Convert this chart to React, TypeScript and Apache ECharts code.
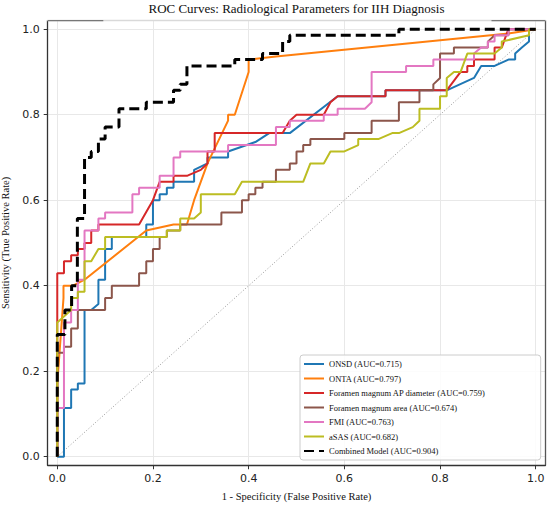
import React, { useEffect, useRef } from "react";
import * as echarts from "echarts";

const tickValues = [0, 0.2, 0.4, 0.6, 0.8, 1.0];

const seriesNames = [
  "ONSD (AUC=0.715)",
  "ONTA (AUC=0.797)",
  "Foramen magnum AP diameter (AUC=0.759)",
  "Foramen magnum area (AUC=0.674)",
  "FMI (AUC=0.763)",
  "aSAS (AUC=0.682)",
  "Combined Model (AUC=0.904)",
];

const seriesColors = ["#1f77b4", "#ff7f0e", "#d62728", "#8c564b", "#e377c2", "#bcbd22", "#000000"];

const onsd: [number, number][] = [
  [0, 0], [0.014, 0], [0.014, 0.114], [0.029, 0.114], [0.029, 0.157], [0.043, 0.157], [0.043, 0.171],
  [0.057, 0.171], [0.057, 0.343], [0.071, 0.343], [0.086, 0.357], [0.086, 0.414], [0.1, 0.414],
  [0.1, 0.486], [0.114, 0.486], [0.114, 0.514], [0.186, 0.514], [0.186, 0.543], [0.2, 0.543],
  [0.2, 0.6], [0.214, 0.6], [0.214, 0.614], [0.229, 0.614], [0.229, 0.629], [0.243, 0.629],
  [0.243, 0.643], [0.286, 0.643], [0.286, 0.671], [0.314, 0.686], [0.314, 0.7], [0.357, 0.7],
  [0.357, 0.714], [0.414, 0.736], [0.443, 0.757], [0.486, 0.757], [0.586, 0.843], [0.686, 0.843],
  [0.686, 0.857], [0.814, 0.857], [0.871, 0.886], [0.886, 0.914], [0.914, 0.914], [0.943, 0.929],
  [0.957, 0.929], [0.957, 0.943], [0.971, 0.957], [0.986, 0.971], [0.986, 1.0], [1, 1],
];

const onta: [number, number][] = [
  [0, 0], [0, 0.171], [0.013, 0.371], [0.013, 0.4], [0.033, 0.4], [0.057, 0.414], [0.186, 0.529],
  [0.243, 0.543], [0.271, 0.543], [0.286, 0.6], [0.314, 0.686], [0.357, 0.786], [0.357, 0.8],
  [0.371, 0.8], [0.4, 0.9], [0.4, 0.929], [0.457, 0.936], [0.943, 0.99], [1, 1],
];

const fmApDiameter: [number, number][] = [
  [0, 0], [0, 0.429], [0.014, 0.429], [0.014, 0.457], [0.029, 0.457], [0.029, 0.471], [0.043, 0.471],
  [0.043, 0.486], [0.057, 0.486], [0.057, 0.5], [0.071, 0.5], [0.071, 0.529], [0.086, 0.529],
  [0.086, 0.543], [0.171, 0.543], [0.2, 0.6], [0.214, 0.643], [0.243, 0.643], [0.243, 0.657],
  [0.271, 0.657], [0.3, 0.671], [0.314, 0.686], [0.314, 0.714], [0.329, 0.714], [0.329, 0.757],
  [0.471, 0.757], [0.486, 0.786], [0.5, 0.8], [0.557, 0.8], [0.571, 0.829], [0.586, 0.843],
  [0.686, 0.843], [0.686, 0.857], [0.814, 0.857], [0.843, 0.9], [0.857, 0.9], [0.857, 0.914],
  [0.871, 0.914], [0.871, 0.929], [0.914, 0.929], [0.914, 0.957], [0.929, 0.957], [0.936, 0.979],
  [0.943, 1.0], [1, 1],
];

const fmArea: [number, number][] = [
  [0, 0], [0, 0.243], [0.014, 0.243], [0.014, 0.257], [0.029, 0.257], [0.029, 0.3], [0.043, 0.3],
  [0.043, 0.343], [0.1, 0.343], [0.1, 0.371], [0.114, 0.371], [0.114, 0.4], [0.171, 0.4],
  [0.171, 0.429], [0.186, 0.429], [0.186, 0.457], [0.2, 0.457], [0.2, 0.486], [0.214, 0.486],
  [0.214, 0.514], [0.229, 0.514], [0.229, 0.529], [0.257, 0.529], [0.257, 0.543], [0.343, 0.543],
  [0.343, 0.571], [0.386, 0.571], [0.386, 0.6], [0.4, 0.6], [0.4, 0.614], [0.414, 0.614],
  [0.414, 0.629], [0.429, 0.629], [0.429, 0.643], [0.457, 0.643], [0.457, 0.671], [0.486, 0.671],
  [0.486, 0.686], [0.5, 0.686], [0.5, 0.714], [0.514, 0.714], [0.514, 0.729], [0.529, 0.729],
  [0.529, 0.743], [0.6, 0.743], [0.6, 0.757], [0.657, 0.757], [0.657, 0.786], [0.714, 0.786],
  [0.714, 0.829], [0.757, 0.829], [0.757, 0.857], [0.786, 0.857], [0.786, 0.871], [0.8, 0.886],
  [0.8, 0.943], [0.829, 0.943], [0.829, 0.957], [0.9, 0.957], [0.9, 0.971], [0.914, 0.986],
  [0.943, 0.986], [0.943, 1.0], [1, 1],
];

const fmi: [number, number][] = [
  [0, 0], [0, 0.114], [0.014, 0.114], [0.014, 0.314], [0.029, 0.314], [0.029, 0.343], [0.043, 0.343],
  [0.043, 0.414], [0.057, 0.414], [0.057, 0.529], [0.086, 0.529], [0.086, 0.557], [0.1, 0.557],
  [0.1, 0.571], [0.157, 0.571], [0.157, 0.614], [0.171, 0.614], [0.171, 0.629], [0.214, 0.629],
  [0.214, 0.657], [0.243, 0.657], [0.243, 0.7], [0.257, 0.7], [0.257, 0.714], [0.357, 0.714],
  [0.357, 0.729], [0.457, 0.729], [0.457, 0.771], [0.486, 0.771], [0.486, 0.786], [0.557, 0.786],
  [0.557, 0.8], [0.586, 0.8], [0.586, 0.814], [0.643, 0.814], [0.657, 0.829], [0.657, 0.9],
  [0.729, 0.9], [0.729, 0.914], [0.786, 0.914], [0.786, 0.929], [0.871, 0.929], [0.871, 0.943],
  [0.886, 0.957], [0.9, 0.957], [0.9, 0.971], [0.914, 0.971], [0.914, 0.986], [0.943, 0.986],
  [0.943, 1.0], [1, 1],
];

const asas: [number, number][] = [
  [0, 0], [0, 0.314], [0.029, 0.343], [0.029, 0.371], [0.043, 0.371], [0.043, 0.386], [0.057, 0.386],
  [0.057, 0.457], [0.071, 0.457], [0.086, 0.486], [0.1, 0.486], [0.1, 0.514], [0.229, 0.514],
  [0.229, 0.529], [0.257, 0.529], [0.257, 0.557], [0.286, 0.557], [0.3, 0.571], [0.3, 0.614],
  [0.371, 0.614], [0.386, 0.643], [0.514, 0.643], [0.529, 0.686], [0.557, 0.686], [0.571, 0.714],
  [0.6, 0.714], [0.629, 0.729], [0.629, 0.743], [0.671, 0.743], [0.7, 0.757], [0.714, 0.757],
  [0.743, 0.771], [0.757, 0.786], [0.757, 0.814], [0.8, 0.814], [0.8, 0.843], [0.814, 0.843],
  [0.814, 0.886], [0.829, 0.9], [0.843, 0.9], [0.857, 0.943], [0.914, 0.943], [0.929, 0.957],
  [0.929, 0.971], [0.986, 0.986], [0.986, 1.0], [1, 1],
];

const combined: [number, number][] = [
  [0, 0], [0, 0.286], [0.016, 0.286], [0.016, 0.343], [0.03, 0.343], [0.03, 0.4], [0.042, 0.4],
  [0.042, 0.557], [0.057, 0.557], [0.057, 0.7], [0.071, 0.7], [0.071, 0.714], [0.086, 0.714],
  [0.086, 0.743], [0.1, 0.743], [0.1, 0.771], [0.129, 0.771], [0.129, 0.814], [0.186, 0.814],
  [0.186, 0.829], [0.243, 0.829], [0.243, 0.857], [0.257, 0.857], [0.257, 0.871], [0.271, 0.871],
  [0.271, 0.914], [0.371, 0.914], [0.371, 0.929], [0.429, 0.929], [0.429, 0.943], [0.471, 0.943],
  [0.471, 0.971], [0.486, 0.971], [0.486, 0.986], [0.714, 0.986], [0.714, 1.0], [1, 1],
];

const chanceLine: [number, number][] = [[0, 0], [1, 1]];

const curves = [onsd, onta, fmApDiameter, fmArea, fmi, asas, combined];

const SERIF = "'Liberation Serif', 'Times New Roman', serif";
const SANS = "'DejaVu Sans', sans-serif";

export default function App() {
  const ref = useRef<HTMLDivElement>(null);

  useEffect(() => {
    if (!ref.current) return;
    const chart = echarts.init(ref.current, null, { renderer: "svg" });

    const gridLeft = 47.7;
    const gridTop = 20.65;
    const gridWidth = 497.6;
    const gridHeight = 444.6;

    const series: any[] = curves.map((data, i) => ({
      name: seriesNames[i],
      type: "line",
      data,
      symbol: "none",
      showSymbol: false,
      clip: true,
      z: 3 + i,
      color: seriesColors[i],
      itemStyle: { color: seriesColors[i], opacity: 0 },
      lineStyle:
        i === 6
          ? { color: seriesColors[i], width: 3, type: [10, 5] }
          : { color: seriesColors[i], width: 2 },
    }));

    series.unshift({
      name: "chance",
      type: "line",
      data: chanceLine,
      symbol: "none",
      z: 2,
      lineStyle: { color: "#999999", width: 1, type: [1, 2] },
      silent: true,
    });

    const option: any = {
      animation: false,
      backgroundColor: "#ffffff",
      title: {
        text: "ROC Curves: Radiological Parameters for IIH Diagnosis",
        left: gridLeft + gridWidth / 2,
        textAlign: "center",
        top: 2,
        padding: 0,
        textStyle: { fontFamily: SERIF, fontSize: 13, fontWeight: "normal", color: "#111" },
      },
      grid: {
        left: gridLeft,
        top: gridTop,
        width: gridWidth,
        height: gridHeight,
        containLabel: false,
        outerBoundsMode: "none",
      },
      xAxis: [
        {
          type: "value",
          min: -0.02,
          max: 1.02,
          position: "bottom",
          name: "1 - Specificity (False Positive Rate)",
          nameLocation: "middle",
          nameGap: 26,
          nameTextStyle: { fontFamily: SERIF, fontSize: 10.5, color: "#111" },
          axisLine: { show: true, onZero: false, lineStyle: { color: "#333", width: 1.3 } },
          axisTick: { show: true, length: 4, customValues: tickValues, lineStyle: { color: "#333", width: 1 } },
          axisLabel: {
            customValues: tickValues,
            formatter: (v: number) => v.toFixed(1),
            fontFamily: SANS,
            fontSize: 11,
            color: "#222",
            margin: 8,
          },
          splitLine: { show: true, lineStyle: { color: "#e8e8e8", width: 1 } },
        },
        {
          type: "value",
          min: -0.02,
          max: 1.02,
          position: "top",
          axisLine: { show: true, onZero: false, lineStyle: { color: "#d9d9d9", width: 1.3 } },
          axisTick: { show: false },
          axisLabel: { show: false },
          splitLine: { show: false },
        },
      ],
      yAxis: [
        {
          type: "value",
          min: -0.02,
          max: 1.02,
          position: "left",
          name: "Sensitivity (True Positive Rate)",
          nameLocation: "middle",
          nameGap: 36,
          nameTextStyle: { fontFamily: SERIF, fontSize: 10.5, color: "#111" },
          axisLine: { show: true, onZero: false, lineStyle: { color: "#333", width: 1.3 } },
          axisTick: { show: true, length: 4, customValues: tickValues, lineStyle: { color: "#333", width: 1 } },
          axisLabel: {
            customValues: tickValues,
            formatter: (v: number) => v.toFixed(1),
            fontFamily: SANS,
            fontSize: 11,
            color: "#222",
            margin: 8,
          },
          splitLine: { show: true, lineStyle: { color: "#e8e8e8", width: 1 } },
        },
        {
          type: "value",
          min: -0.02,
          max: 1.02,
          position: "right",
          axisLine: { show: true, onZero: false, lineStyle: { color: "#555", width: 1.3 } },
          axisTick: { show: false },
          axisLabel: { show: false },
          splitLine: { show: false },
        },
      ],
      legend: {
        orient: "vertical",
        left: 300,
        top: 355,
        z: 20,
        data: seriesNames,
        itemWidth: 20,
        itemHeight: 10,
        itemGap: 4.5,
        padding: [4, 3, 4, 3],
        itemStyle: { opacity: 0 },
        backgroundColor: "transparent",
        borderWidth: 0,
        textStyle: { fontFamily: SERIF, fontSize: 8.5, color: "#111", lineHeight: 10 },
      },
      graphic: [
        {
          type: "rect",
          z: 19,
          shape: { x: 300, y: 355, width: 240.7, height: 105, r: 3 },
          style: { fill: "rgba(255,255,255,0.85)", stroke: "#cccccc", lineWidth: 1 },
        },
        {
          type: "line",
          shape: { x1: gridLeft, y1: gridTop, x2: 103.3, y2: gridTop },
          style: { stroke: "#777", lineWidth: 1.3 },
          z: 100,
        },
        {
          type: "line",
          shape: { x1: 491.5, y1: gridTop, x2: gridLeft + gridWidth, y2: gridTop },
          style: { stroke: "#777", lineWidth: 1.3 },
          z: 100,
        },
      ],
      series,
    };

    chart.setOption(option);
    return () => chart.dispose();
  }, []);

  return (
    <div
      ref={ref}
      style={{ position: "fixed", left: 0, top: 0, width: 550, height: 505, background: "#fff" }}
    />
  );
}
